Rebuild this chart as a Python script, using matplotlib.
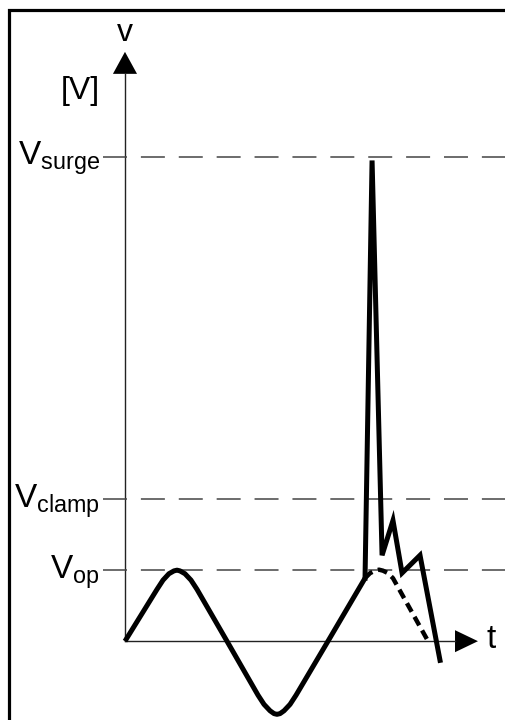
import matplotlib.pyplot as plt

plt.rcParams['font.family'] = ['Liberation Sans', 'DejaVu Sans']
plt.rcParams['mathtext.fontset'] = 'custom'
plt.rcParams['mathtext.rm'] = 'Liberation Sans'
plt.rcParams['mathtext.it'] = 'Liberation Sans:italic'

# levels (in units of V_op)
level_names = ['surge', 'clamp', 'op']
level_values = [6.82, 2.0, 1.0]

# mains wave (t in ms, v in units of V_op)
wave_t = [0.0, 3.14, 3.73, 4.31, 4.80, 5.10, 5.39, 5.88, 6.47, 7.06, 10.0,
          13.04, 13.63, 14.22, 14.61, 14.90, 15.20, 15.59, 16.18, 16.77,
          19.90, 23.53]
wave_v = [0.0, 0.73, 0.86, 0.95, 0.99, 1.0, 0.99, 0.95, 0.86, 0.73, 0.0,
          -0.76, -0.89, -0.98, -1.02, -1.03, -1.02, -0.98, -0.89, -0.76,
          0.0, 0.887]

# where the wave would have gone without the surge (dashed)
rest_t = [23.53, 24.02, 24.51, 24.90, 25.29, 25.78, 26.27, 29.71]
rest_v = [0.887, 0.958, 0.993, 1.007, 0.993, 0.958, 0.887, 0.0]

# surge transient
spike_t = [23.53, 24.22, 25.20, 26.27, 27.16, 28.92, 30.88]
spike_v = [0.887, 6.77, 1.21, 1.70, 0.96, 1.21, -0.27]

fig = plt.figure(figsize=(5.05, 7.2), dpi=100)
ax = fig.add_axes([0, 0, 1, 1])
ax.set_xlim(-12.25, 37.25)
ax.set_ylim(-1.11, 9.03)
ax.axis('off')

# frame (left and top only)
ax.plot([0.018, 0.018, 1.0], [0.0, 0.986, 0.986], transform=ax.transAxes,
        color='black', lw=2.3, solid_capstyle='butt', solid_joinstyle='miter')

# axes with arrows
axis_col = '#222222'
ax.plot([0, 0], [0, 7.99], color=axis_col, lw=1.0)
ax.plot([0, 32.35], [0, 0], color=axis_col, lw=1.0)
ax.fill([-1.18, 1.18, 0], [7.99, 7.99, 8.30], color='black', lw=0)
ax.fill([32.35, 32.35, 34.6], [-0.155, 0.155, 0], color='black', lw=0)
ax.text(0, 8.56, 'v', fontsize=23, ha='center', va='center')
ax.text(-4.41, 7.75, '[V]', fontsize=23, ha='center', va='center')
ax.text(35.9, 0.02, 't', fontsize=24, ha='center', va='center')

# reference levels
for name, val in zip(level_names, level_values):
    ax.plot([-2.16, 37.25], [val, val], color='#444444', lw=1.1,
            dashes=(15.7, 9.1))
    ax.text(-2.45, val - 0.115, r'$\mathrm{V}_{\mathrm{%s}}$' % name,
            fontsize=24, ha='right', va='baseline')

# wave, dashed continuation, surge
ax.plot(wave_t, wave_v, color='black', lw=3.6, solid_capstyle='butt',
        solid_joinstyle='round')
ax.plot(rest_t, rest_v, color='black', lw=3.2, dashes=(2.2, 1.3))
ax.plot(spike_t, spike_v, color='black', lw=3.6, solid_joinstyle='miter')

fig.savefig('out.png', dpi=100)
